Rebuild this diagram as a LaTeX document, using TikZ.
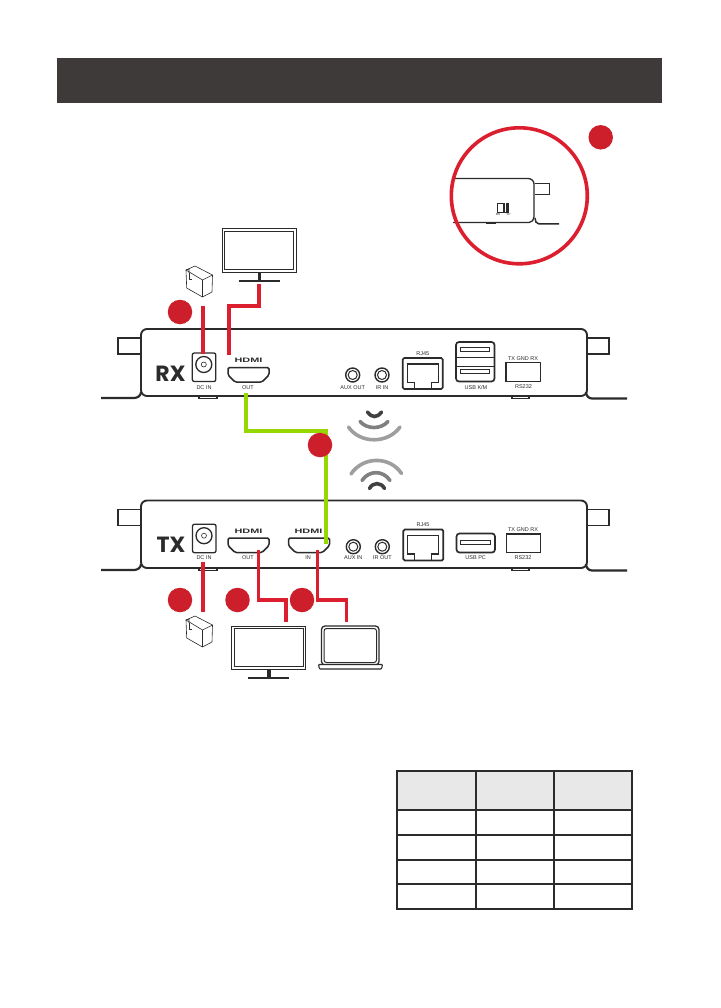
\documentclass[tikz,border=0pt]{standalone}
\usepackage{fontspec}
\setmainfont{Liberation Sans}
\newfontfamily\heavyfont{Poppins}
\definecolor{bar}{HTML}{3E3A39}
\definecolor{ink}{HTML}{2B2B2B}
\definecolor{redline}{HTML}{DC1F2E}
\definecolor{reddot}{HTML}{CC1F2B}
\definecolor{greenline}{HTML}{97D700}
\definecolor{headfill}{HTML}{E8E8E8}
\tikzset{
  caselin/.style={draw=ink,line width=1.9pt},
  thin part/.style={draw=ink,line width=1.3pt},
  cable/.style={draw=redline,line width=3.2pt},
  hcable/.style={draw=greenline,line width=4pt},
  dot/.style={circle,fill=reddot,minimum size=24.5pt,inner sep=0pt},
  tiny/.style={font=\fontsize{5.5}{6}\selectfont,text=ink,inner sep=0pt},
  hdlogo/.style={font=\fontsize{6.4}{7}\selectfont\bfseries,text=ink,inner sep=0pt,xscale=1.7},
  unitname/.style={font=\fontsize{22}{24}\selectfont\heavyfont\bfseries,text=ink,inner sep=0pt},
  wave/.style={line width=3.6pt,line cap=round},
  tbl/.style={draw=ink,line width=2pt}
}
\newcommand{\hdmiport}[2]{%
  \draw[thin part,line width=1.5pt,rounded corners=1.5pt] (#1,#2) -- ++(41,0) -- ++(0,7.5) -- ++(-7,7) -- ++(-27,0) -- ++(-7,-7) -- cycle;}
\newcommand{\rjport}[2]{%
  \draw[draw=ink,line width=1.7pt,rounded corners=1.5pt] (#1,#2) -- ++(40,0) -- ++(0,31) -- ++(-40,0) -- cycle;
  \draw[thin part] (#1+4.5,#2+6) -- ++(31,0) -- ++(0,18.5) -- ++(-7,0) -- ++(0,6.5) -- ++(-17,0) -- ++(0,-6.5) -- ++(-7,0) -- cycle;}
\newcommand{\jack}[2]{%
  \draw[thin part,rounded corners=2pt] (#1-11.5,#2-11.5) rectangle ++(23.5,28.5);
  \draw[thin part] (#1,#2) circle (8);
  \draw[draw=ink,line width=.6pt] (#1,#2) circle (2.5);}
\newcommand{\audio}[2]{%
  \draw[draw=ink,line width=1.4pt] (#1,#2) circle (7);
  \draw[draw=ink,line width=1pt] (#1,#2) circle (4.5);}
\newcommand{\adapter}[2]{%
  \begin{scope}[shift={(#1,#2)},draw=ink,line width=.6pt,line join=round]
  \draw (0,0) -- (9,-4) -- (26.5,5) -- (26,22) -- (16.5,27) -- (.7,18) -- cycle;
  \draw (0,0) -- (16.5,10) -- (26.5,5);
  \draw (16.5,10) -- (16.5,27);
  \draw (0,0) -- (3,-1) -- (3,3);
  \draw (3,3) -- (3,9) -- (6,9);
  \end{scope}}
\newcommand{\monitor}[2]{%
  \begin{scope}[shift={(#1,#2)}]
  \draw[draw=ink,line width=1pt] (0,0) rectangle (74,43);
  \draw[draw=ink,line width=1pt] (2.5,2.5) rectangle (71.5,40.5);
  \draw[draw=ink,line width=3.2pt] (37.3,43) -- (37.3,52);
  \draw[draw=ink,line width=2.8pt] (16.5,52) -- (57.5,52);
  \end{scope}}
\newcommand{\casing}[2]{%
  \begin{scope}[shift={(0,#1)}]
  \draw[thin part,fill=white] (118,9) rectangle (141,25);
  \draw[thin part,fill=white] (587,9) rectangle (609,25);
  \draw[thin part,fill=white] (199,66) -- (199,#2+2.5) -- (217,#2+2.5) -- (217,66);
  \draw[thin part,fill=white] (512,66) -- (512,#2+2.5) -- (529,#2+2.5) -- (529,66);
  \draw[caselin,fill=white,rounded corners=6pt] (141,0) rectangle (587,#2);
  \draw[draw=ink,line width=2.2pt] (101,#2+2) -- (134,#2+2) to[out=0,in=-90] (141,#2-4);
  \draw[draw=ink,line width=2.2pt] (627,#2+2.5) -- (592,#2+2.5) to[out=180,in=-90] (586,#2-4);
  \end{scope}}
\begin{document}
\begin{tikzpicture}[x=1pt,y=-1pt]
\useasboundingbox (0,0) rectangle (720,1008);
\fill[white] (0,0) rectangle (720,1008);
% header
\node[fill=bar,minimum width=605pt,minimum height=45pt,inner sep=0pt,anchor=north west] (header) at (57,58) {};
% magnifier
\draw[thin part] (453,178.5) -- (528,178.5) to[out=0,in=90] (534,184) -- (534,217) to[out=-90,in=0] (529,222.5) -- (453,222.5);
\draw[thin part,line width=1pt] (535,184) -- (549,184) -- (549,195) -- (535,195);
\draw[draw=ink,line width=1.5pt] (535,218) to[out=-90,in=180] (539,224) -- (559,224);
\fill[ink] (486,222) rectangle (496,224.5);
\draw[draw=ink,line width=.9pt] (497.5,203.5) rectangle (508.5,212);
\fill[ink] (503,203.5) rectangle (508.5,212);
\draw[white,line width=.5pt] (505.7,203.5) -- (505.7,212);
\node[font=\fontsize{3}{3}\selectfont,text=ink,inner sep=0pt] (sw1) at (498,214.5) {8W};
\node[font=\fontsize{3}{3}\selectfont,text=ink,inner sep=0pt] (sw2) at (508.5,214.5) {SP};
\node[circle,draw=redline,line width=3.6pt,minimum size=136pt,inner sep=0pt] (lens) at (519.3,195.8) {};
\node[dot] (d6) at (600.7,137.3) {};
% RX
\casing{329}{67}
\node[unitname] (rx) at (170.5,374) {RX};
\jack{203.8}{364.5}
\node[tiny] (rxdc) at (204,388) {DC IN};
\node[hdlogo] (rxhd) at (248.5,360) {HDMI};
\hdmiport{228}{367.5}
\node[tiny] (rxout) at (248,387.5) {OUT};
\audio{352.7}{375}
\node[tiny] (rxaux) at (352.7,388) {AUX OUT};
\audio{382}{375}
\node[tiny] (rxir) at (382,388) {IR IN};
\node[tiny] (rxrjl) at (422.7,354) {RJ45};
\rjport{402.7}{358}
\draw[draw=ink,line width=1.7pt,rounded corners=3pt] (456,342) rectangle (494.5,381.5);
\draw[draw=ink,line width=1pt] (456,357) -- (494.5,357);
\draw[draw=ink,line width=1pt] (456,366) -- (494.5,366);
\draw[draw=ink,line width=.9pt] (460.5,347.5) rectangle (489.5,351.5);
\draw[draw=ink,line width=.9pt] (460.5,369.5) rectangle (489.5,373.5);
\node[tiny] (rxusb) at (476,388) {USB K/M};
\node[tiny] (rxtx) at (523,359) {TX GND RX};
\draw[draw=ink,line width=1.5pt] (506,362.5) rectangle (540.5,381.5);
\node[tiny] (rxrs) at (523.5,387) {RS232};
% TX
\casing{500.5}{67.5}
\node[unitname] (tx) at (171,545) {TX};
\jack{204}{535.7}
\node[tiny] (txdc) at (204,558) {DC IN};
\node[hdlogo] (txhd1) at (248.5,531) {HDMI};
\hdmiport{228}{538}
\node[tiny] (txout) at (248,558) {OUT};
\node[hdlogo] (txhd2) at (308.5,531) {HDMI};
\hdmiport{288.5}{538}
\node[tiny] (txin) at (308,558) {IN};
\audio{353.3}{546.7}
\node[tiny] (txaux) at (353.3,558) {AUX IN};
\audio{382.3}{546.7}
\node[tiny] (txir) at (382.3,558) {IR OUT};
\node[tiny] (txrjl) at (423,524.7) {RJ45};
\rjport{403.3}{529.5}
\draw[draw=ink,line width=1.7pt,rounded corners=3pt] (456.5,533.5) rectangle (495,552.5);
\draw[draw=ink,line width=.9pt] (460.5,540.5) rectangle (490.5,544.5);
\node[tiny] (txusb) at (475.7,558) {USB PC};
\node[tiny] (txtx) at (523,529.7) {TX GND RX};
\draw[draw=ink,line width=1.5pt] (506.5,534) rectangle (540.5,552.5);
\node[tiny] (txrs) at (523,558) {RS232};
% devices
\monitor{222}{229}
\monitor{231.7}{626}
\adapter{186}{270}
\adapter{186}{620}
\draw[draw=ink,line width=1.3pt,rounded corners=3.5pt] (321.5,626) rectangle (379,665);
\draw[draw=ink,line width=1pt,rounded corners=2.5pt] (324,628.5) rectangle (376.5,662.5);
\draw[draw=ink,line width=1.1pt,rounded corners=.8pt,fill=white] (318.5,664.5) -- (382.5,664.5) -- (381.5,669) -- (319.5,669) -- cycle;
% named ends of cables
\coordinate (cA1) at (259,284);
\coordinate (cA2) at (229,355);
\coordinate (cB1) at (203,306);
\coordinate (cB2) at (203,354);
\coordinate (cC1) at (203,562);
\coordinate (cC2) at (203,611.5);
\coordinate (cD1) at (258.3,550);
\coordinate (cD2) at (286,621.5);
\coordinate (cE1) at (317.7,550);
\coordinate (cE2) at (346.7,621.5);
\coordinate (gA) at (246,393);
\coordinate (gB) at (326,544);
\draw[hcable] (gA) |- (326,431) -- (gB);
\draw[cable] (cA1) -- (259,306) -- (229,306) -- (cA2);
\draw[cable] (cB1) -- (cB2);
\draw[cable] (cC1) -- (cC2);
\draw[cable] (cD1) -- (258.3,600) -- (286,600) -- (cD2);
\draw[cable] (cE1) -- (317.7,600) -- (346.7,600) -- (cE2);
% dots
\node[dot] (d1) at (180,312) {};
\node[dot] (d2) at (320,445) {};
\node[dot] (d3) at (180,600) {};
\node[dot] (d4) at (237.5,600) {};
\node[dot] (d5) at (302,600) {};
% waves
\draw[wave,draw=ink!90] (367.5,412) .. controls (372,418) and (377,418) .. (381.5,412);
\draw[wave,draw=black!50] (360,421.5) .. controls (367,429.5) and (381,429.5) .. (388,421.5);
\draw[wave,draw=black!38] (348.5,427) .. controls (360,444) and (388,444) .. (400,427);
\draw[wave,draw=black!38] (351,474) .. controls (363,456) and (390,456) .. (401.5,473.5);
\draw[wave,draw=black!50] (362,480.5) .. controls (369,470) and (383,470) .. (390,480.5);
\draw[wave,draw=ink!90] (369.5,488.5) .. controls (373,482) and (381,482) .. (384.5,488.5);
% table
\fill[headfill] (397,771) rectangle (632,810);
\draw[tbl] (397,771) rectangle (632,908.5);
\draw[tbl] (397,810) -- (632,810);
\draw[tbl] (397,835) -- (632,835);
\draw[tbl] (397,859.7) -- (632,859.7);
\draw[tbl] (397,884) -- (632,884);
\draw[tbl] (476,771) -- (476,908.5);
\draw[tbl] (554,771) -- (554,908.5);
\end{tikzpicture}
\end{document}
